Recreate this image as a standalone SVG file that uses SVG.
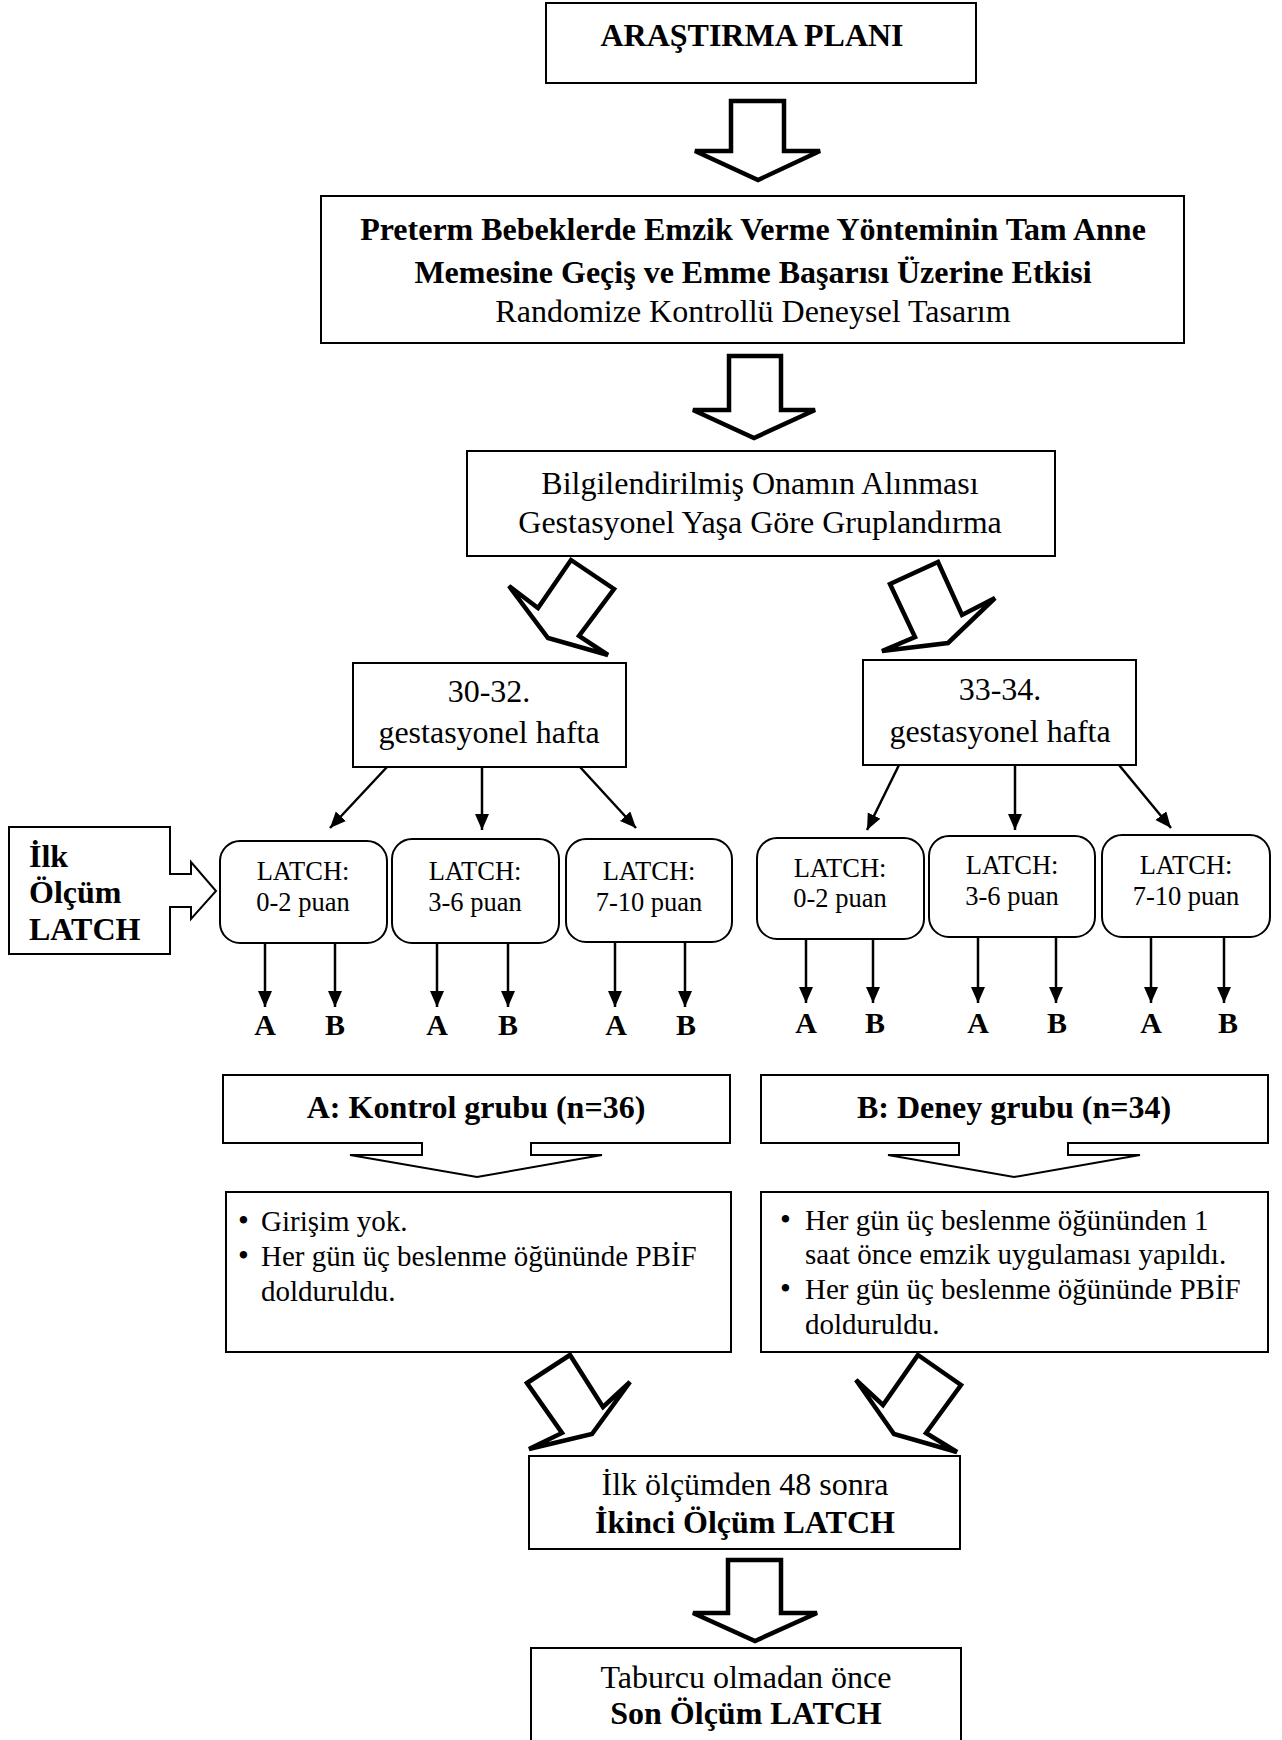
<svg xmlns="http://www.w3.org/2000/svg" width="1282" height="1740" viewBox="0 0 1282 1740">
<style>
text{font-family:"Liberation Serif","Times New Roman",serif;fill:#000}
.t32{font-size:32px}
.b32{font-size:32px;font-weight:bold}
.t26{font-size:26.5px}
.b30{font-size:30px;font-weight:bold}
.t29{font-size:29px}
.bul{font-size:31px}
.m{text-anchor:middle}
.box{fill:#fff;stroke:#000;stroke-width:2}
.rbox{fill:#fff;stroke:#000;stroke-width:2}
.big{fill:#fff;stroke:#000;stroke-width:4.5;stroke-linejoin:miter}
.thin{fill:#fff;stroke:#000;stroke-width:2;stroke-linejoin:miter}
.con{stroke:#000;stroke-width:2.5;fill:none;marker-end:url(#ah)}
</style>
<defs>
<marker id="ah" markerUnits="userSpaceOnUse" markerWidth="18" markerHeight="16" refX="16" refY="7" orient="auto">
<path d="M0,0 L16,7 L0,14 Z" fill="#000"/>
</marker>
</defs>
<rect width="1282" height="1740" fill="#fff"/>

<g id="plan">
<rect class="box" x="546" y="3" width="430" height="80"/>
<text class="b32 m" x="752" y="46">ARAŞTIRMA PLANI</text>
</g>

<g id="arrow-1"><path class="big" d="M731 101 H784 V151 H820 L758 180 L695 151 H731 Z"/></g>

<g id="title">
<rect class="box" x="321" y="196" width="863" height="147"/>
<text class="b32 m" x="753" y="240">Preterm Bebeklerde Emzik Verme Yönteminin Tam Anne</text>
<text class="b32 m" x="753" y="283">Memesine Geçiş ve Emme Başarısı Üzerine Etkisi</text>
<text class="t32 m" x="753" y="322">Randomize Kontrollü Deneysel Tasarım</text>
</g>

<g id="arrow-2"><path class="big" d="M729 356 H781 V410 H815 L754 438 L693 410 H729 Z"/></g>

<g id="consent">
<rect class="box" x="467" y="451" width="588" height="105"/>
<text class="t32 m" x="760" y="494">Bilgilendirilmiş Onamın Alınması</text>
<text class="t32 m" x="760" y="533">Gestasyonel Yaşa Göre Gruplandırma</text>
</g>

<g id="arrow-left-diag"><path class="big" d="M571 560 L614 589 L579 636 L608 655 L548 638 L509 586 L538 608 Z"/></g>
<g id="arrow-right-diag"><path class="big" d="M890 584 L938 562 L962 615 L995 598 L948 643 L882 651 L915 637 Z"/></g>

<g id="ga-30-32">
<rect class="box" x="353" y="663" width="273" height="104"/>
<text class="t32 m" x="489" y="702">30-32.</text>
<text class="t32 m" x="489" y="743">gestasyonel hafta</text>
</g>
<g id="ga-33-34">
<rect class="box" x="863" y="660" width="273" height="105"/>
<text class="t32 m" x="1000" y="700">33-34.</text>
<text class="t32 m" x="1000" y="742">gestasyonel hafta</text>
</g>

<g id="ilk-olcum">
<path class="thin" d="M9 827 H170 V874 H191 V862 L216 891 L191 919 V907 H170 V954 H9 Z"/>
<text class="b32" x="29" y="867">İlk</text>
<text class="b32" x="29" y="903">Ölçüm</text>
<text class="b32" x="29" y="940">LATCH</text>
</g>

<g id="latch-l1">
<rect class="rbox" x="220" y="841" width="167" height="102" rx="20"/>
<text class="t26 m" x="303" y="880">LATCH:</text>
<text class="t26 m" x="303" y="911">0-2 puan</text>
</g>
<g id="latch-l2">
<rect class="rbox" x="392" y="839" width="167" height="104" rx="20"/>
<text class="t26 m" x="475" y="880">LATCH:</text>
<text class="t26 m" x="475" y="911">3-6 puan</text>
</g>
<g id="latch-l3">
<rect class="rbox" x="566" y="839" width="166" height="103" rx="20"/>
<text class="t26 m" x="649" y="880">LATCH:</text>
<text class="t26 m" x="649" y="911">7-10 puan</text>
</g>
<g id="latch-r1">
<rect class="rbox" x="757" y="838" width="167" height="101" rx="20"/>
<text class="t26 m" x="840" y="877">LATCH:</text>
<text class="t26 m" x="840" y="907">0-2 puan</text>
</g>
<g id="latch-r2">
<rect class="rbox" x="929" y="836" width="166" height="101" rx="20"/>
<text class="t26 m" x="1012" y="874">LATCH:</text>
<text class="t26 m" x="1012" y="905">3-6 puan</text>
</g>
<g id="latch-r3">
<rect class="rbox" x="1102" y="835" width="168" height="102" rx="20"/>
<text class="t26 m" x="1186" y="874">LATCH:</text>
<text class="t26 m" x="1186" y="905">7-10 puan</text>
</g>

<g id="connectors">
<line class="con" x1="387" y1="767" x2="330" y2="828"/>
<line class="con" x1="482" y1="767" x2="482" y2="830"/>
<line class="con" x1="580" y1="767" x2="636" y2="828"/>
<line class="con" x1="899" y1="765" x2="867" y2="830"/>
<line class="con" x1="1015" y1="765" x2="1015" y2="830"/>
<line class="con" x1="1119" y1="765" x2="1171" y2="828"/>
<line class="con" x1="265" y1="943" x2="265" y2="1007"/>
<line class="con" x1="335" y1="943" x2="335" y2="1007"/>
<line class="con" x1="437" y1="943" x2="437" y2="1007"/>
<line class="con" x1="508" y1="943" x2="508" y2="1007"/>
<line class="con" x1="615" y1="942" x2="615" y2="1007"/>
<line class="con" x1="685" y1="942" x2="685" y2="1007"/>
<line class="con" x1="806" y1="940" x2="806" y2="1003"/>
<line class="con" x1="873" y1="940" x2="873" y2="1003"/>
<line class="con" x1="978" y1="938" x2="978" y2="1003"/>
<line class="con" x1="1056" y1="938" x2="1056" y2="1003"/>
<line class="con" x1="1151" y1="938" x2="1151" y2="1003"/>
<line class="con" x1="1224" y1="938" x2="1224" y2="1003"/>
</g>

<g id="ab-labels">
<text class="b30 m" x="265" y="1035">A</text>
<text class="b30 m" x="335" y="1035">B</text>
<text class="b30 m" x="437" y="1035">A</text>
<text class="b30 m" x="508" y="1035">B</text>
<text class="b30 m" x="616" y="1035">A</text>
<text class="b30 m" x="686" y="1035">B</text>
<text class="b30 m" x="806" y="1033">A</text>
<text class="b30 m" x="875" y="1033">B</text>
<text class="b30 m" x="978" y="1033">A</text>
<text class="b30 m" x="1057" y="1033">B</text>
<text class="b30 m" x="1151" y="1033">A</text>
<text class="b30 m" x="1228" y="1033">B</text>
</g>

<g id="group-a">
<path class="thin" d="M422 1143 H223 V1075 H730 V1143 H531 V1155 H602 L477 1177 L350 1155 H422 Z"/>
<text class="b32 m" x="476" y="1118">A: Kontrol grubu (n=36)</text>
</g>
<g id="group-b">
<path class="thin" d="M959 1143 H761 V1075 H1268 V1143 H1068 V1155 H1140 L1014 1177 L888 1155 H959 Z"/>
<text class="b32 m" x="1014" y="1118">B: Deney grubu (n=34)</text>
</g>

<g id="a-details">
<rect class="box" x="226" y="1192" width="505" height="160"/>
<text class="t29" x="238" y="1231"><tspan class="bul">•</tspan><tspan x="261">Girişim yok.</tspan></text>
<text class="t29" x="238" y="1266"><tspan class="bul">•</tspan><tspan x="261">Her gün üç beslenme öğününde PBİF</tspan></text>
<text class="t29" x="261" y="1301">dolduruldu.</text>
</g>
<g id="b-details">
<rect class="box" x="761" y="1192" width="507" height="160"/>
<text class="t29" x="780" y="1230"><tspan class="bul">•</tspan><tspan x="805">Her gün üç beslenme öğününden 1</tspan></text>
<text class="t29" x="805" y="1264">saat önce emzik uygulaması yapıldı.</text>
<text class="t29" x="780" y="1299"><tspan class="bul">•</tspan><tspan x="805">Her gün üç beslenme öğününde PBİF</tspan></text>
<text class="t29" x="805" y="1334">dolduruldu.</text>
</g>

<g id="arrow-bl"><path class="big" d="M527 1383 L570 1355 L603 1407 L630 1382 L592 1434 L529 1449 L562 1433 Z"/></g>
<g id="arrow-br"><path class="big" d="M918 1355 L961 1385 L926 1433 L957 1452 L894 1434 L856 1380 L883 1405 Z"/></g>

<g id="second">
<rect class="box" x="529" y="1456" width="431" height="93"/>
<text class="t32 m" x="745" y="1495">İlk ölçümden 48 sonra</text>
<text class="b32 m" x="745" y="1533">İkinci Ölçüm LATCH</text>
</g>

<g id="arrow-3"><path class="big" d="M728 1560 H781 V1613 H817 L755 1641 L693 1613 H728 Z"/></g>

<g id="last">
<rect class="box" x="531" y="1648" width="430" height="95"/>
<text class="t32 m" x="746" y="1688">Taburcu olmadan önce</text>
<text class="b32 m" x="746" y="1724">Son Ölçüm LATCH</text>
</g>
</svg>
